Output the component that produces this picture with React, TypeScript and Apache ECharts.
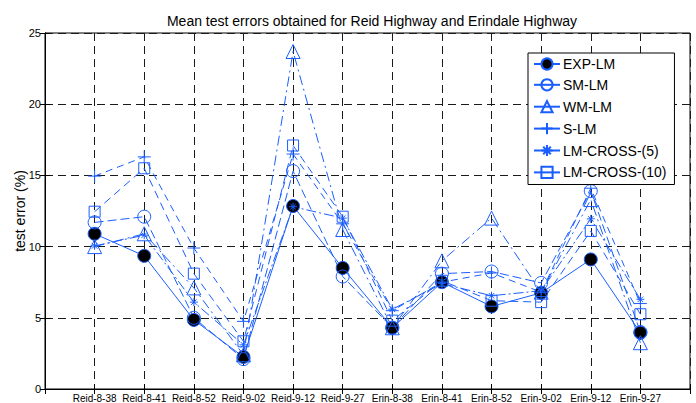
import React, { useEffect, useRef } from "react";
import * as echarts from "echarts";

const categories = ["Reid-8-38", "Reid-8-41", "Reid-8-52", "Reid-9-02", "Reid-9-12", "Reid-9-27", "Erin-8-38", "Erin-8-41", "Erin-8-52", "Erin-9-02", "Erin-9-12", "Erin-9-27"];
const expLM = [10.9, 9.35, 4.85, 2.25, 12.85, 8.5, 4.3, 7.5, 5.8, 6.75, 9.1, 3.95];
const smLM = [11.7, 12.1, 5.0, 2.1, 15.3, 7.9, 4.3, 8.1, 8.25, 7.45, 13.9, 4.0];
const wmLM = [10.0, 10.9, 7.1, 2.4, 23.7, 11.2, 4.3, 9.0, 12.0, 6.8, 13.3, 3.25];
const sLM = [14.95, 16.3, 9.9, 4.75, 16.5, 11.6, 5.5, 7.5, 8.15, 6.8, 14.1, 6.0];
const cross5 = [10.05, 10.8, 6.1, 3.1, 12.8, 12.0, 5.6, 7.4, 6.55, 6.9, 11.95, 6.3];
const cross10 = [12.45, 15.5, 8.1, 3.35, 17.1, 12.1, 4.8, 7.6, 6.2, 6.1, 11.1, 5.25];
const yTicks = [0, 5, 10, 15, 20, 25];

const BLUE = "#1a5eff";
const PLUS = "path://M5 0L5 10M0 5L10 5";
const STAR = "path://M5 0L5 10M0 5L10 5M1.6 1.6L8.4 8.4M8.4 1.6L1.6 8.4";

export default function App() {
  const ref = useRef<HTMLDivElement>(null);
  useEffect(() => {
    const chart = echarts.init(ref.current!, null, { renderer: "svg" });
    const mk = (name: string, vals: number[], symbol: string, size: number, fill: string, dash: any, border: string = BLUE) => ({
      name,
      type: "line",
      data: vals.map((v, i) => [i + 1, v]),
      symbol,
      symbolSize: size,
      showAllSymbol: true,
      lineStyle: { color: BLUE, width: 1, type: dash },
      itemStyle: { color: fill, borderColor: border, borderWidth: 1 },
      emphasis: { disabled: true },
    });
    const font = "Liberation Sans, Arial, sans-serif";
    chart.setOption({
      animation: false,
      title: {
        text: "Mean test errors obtained for Reid Highway and Erindale Highway",
        left: 367,
        textAlign: "center",
        top: 9,
        textStyle: { fontSize: 14, fontWeight: "normal", color: "#000", fontFamily: font },
      },
      legend: {
        orient: "vertical",
        left: 528,
        top: 53,
        padding: [4, 8, 4, 5],
        itemGap: 5.7,
        itemWidth: 26,
        itemHeight: 14,
        borderColor: "#000",
        borderWidth: 1,
        backgroundColor: "#fff",
        lineStyle: { type: "solid" },
        textStyle: { fontSize: 14, color: "#000", fontFamily: font, padding: [0, 0, 0, -2] },
        data: ["EXP-LM", "SM-LM", "WM-LM", "S-LM", "LM-CROSS-(5)", "LM-CROSS-(10)"],
      },
      grid: { left: 45, right: 6, top: 33, bottom: 12, show: true, borderColor: "#000", borderWidth: 1, containLabel: false },
      xAxis: [
        {
          type: "value",
          min: 0,
          max: 13,
          interval: 1,
          axisLine: { show: true, lineStyle: { color: "#000" } },
          axisTick: { show: true, inside: true, length: 5, lineStyle: { color: "#000" } },
          axisLabel: {
            fontSize: 10,
            color: "#000",
            margin: 4,
            fontFamily: font,
            formatter: (v: number) => categories[v - 1] ?? "",
          },
          splitLine: { show: true, lineStyle: { color: "#1a1a1a", type: [8, 5], width: 1 } },
        },
        {
          type: "value",
          position: "top",
          min: 0,
          max: 13,
          interval: 1,
          axisLine: { show: true, lineStyle: { color: "#000" } },
          axisTick: { show: true, inside: true, length: 5, lineStyle: { color: "#000" } },
          axisLabel: { show: false },
          splitLine: { show: false },
        },
      ],
      yAxis: [
        {
          type: "value",
          min: 0,
          max: 25,
          interval: 5,
          name: "test error (%)",
          nameLocation: "middle",
          nameGap: 18,
          nameMoveOverlap: false,
          nameTextStyle: { fontSize: 14, color: "#000", fontFamily: font },
          axisLine: { show: true, lineStyle: { color: "#000" } },
          axisTick: { show: true, inside: true, length: 5, lineStyle: { color: "#000" } },
          axisLabel: { fontSize: 11, color: "#000", margin: 4, fontFamily: font, formatter: (v: number) => (yTicks.includes(v) ? String(v) : "") },
          splitLine: { show: true, lineStyle: { color: "#1a1a1a", type: [8, 5], width: 1 } },
        },
        {
          type: "value",
          position: "right",
          min: 0,
          max: 25,
          interval: 5,
          axisLine: { show: true, lineStyle: { color: "#000" } },
          axisTick: { show: true, inside: true, length: 5, lineStyle: { color: "#000" } },
          axisLabel: { show: false },
          splitLine: { show: false },
        },
      ],
      series: [
        mk("EXP-LM", expLM, "circle", 13, "#000", "solid"),
        mk("SM-LM", smLM, "circle", 13, "none", [9, 4]),
        mk("WM-LM", wmLM, "triangle", 14, "none", [10, 4, 2, 4]),
        mk("S-LM", sLM, PLUS, 13, "none", [7, 5]),
        mk("LM-CROSS-(5)", cross5, STAR, 8, "none", [10, 3, 2, 3]),
        mk("LM-CROSS-(10)", cross10, "rect", 11, "none", [8, 5]),
      ],
    });
    return () => chart.dispose();
  }, []);
  return <div ref={ref} style={{ width: 696, height: 403, position: "absolute", left: 0, top: 0, background: "#fff" }} />;
}
